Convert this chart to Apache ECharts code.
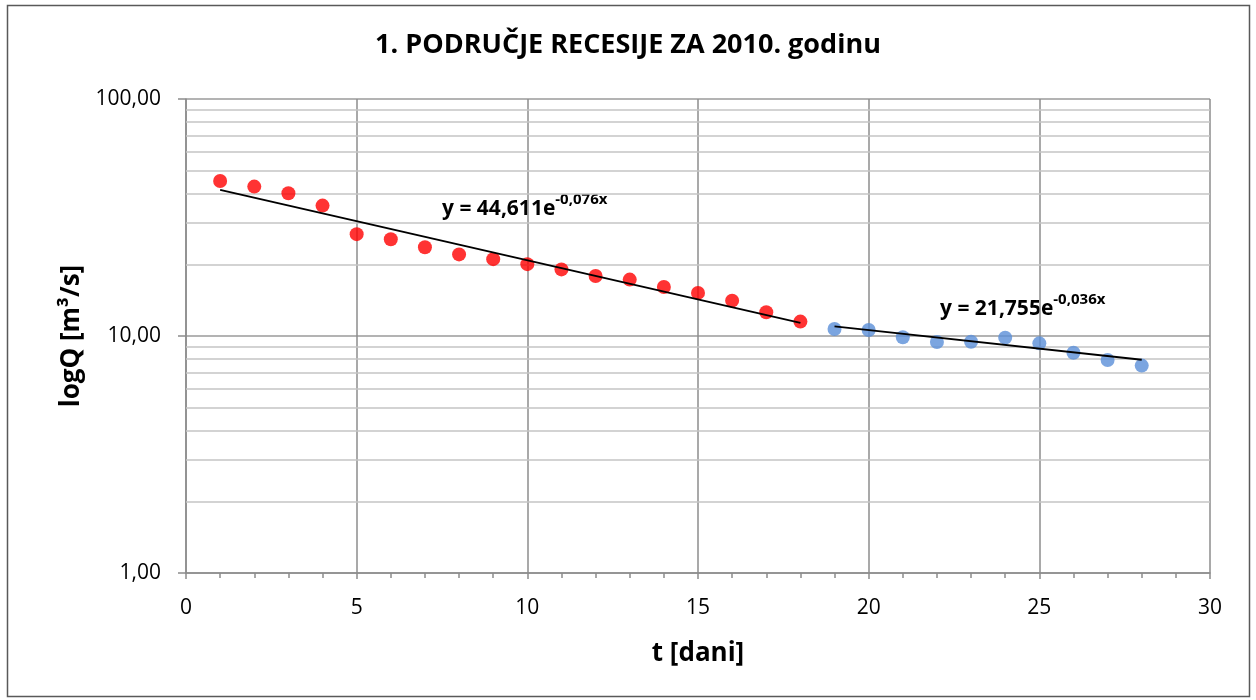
<!DOCTYPE html>
<html>
<head>
<meta charset="utf-8">
<title>Područje recesije 2010</title>
<script src="https://cdn.jsdelivr.net/npm/echarts@6/dist/echarts.min.js"></script>
<style>
  html, body { margin: 0; padding: 0; background: #fff; }
  #chart { width: 1256px; height: 700px; }
</style>
</head>
<body>
<div id="chart"></div>
<script>
// dani (x) i protoci Q (y)
const daniA = [1, 2, 3, 4, 5, 6, 7, 8, 9, 10, 11, 12, 13, 14, 15, 16, 17, 18];
const qA = [45.1, 42.7, 40.0, 35.5, 26.9, 25.6, 23.7, 22.1, 21.1, 20.1, 19.1, 17.9, 17.3, 16.1, 15.2, 14.1, 12.6, 11.5];
const daniB = [19, 20, 21, 22, 23, 24, 25, 26, 27, 28];
const qB = [10.7, 10.6, 9.88, 9.44, 9.46, 9.84, 9.31, 8.50, 7.92, 7.50];

// krajnje tocke trend linija
const trendXA = [1, 18];
const trendYA = [41.35, 11.36];
const trendXB = [19, 28];
const trendYB = [10.98, 7.94];

// pomocne linije mreze (log)
const minorY = [2, 3, 4, 5, 6, 7, 8, 9, 20, 30, 40, 50, 60, 70, 80, 90];

const FONT = '"Open Sans", "Noto Sans", sans-serif';

function pairs(xs, ys) {
  return xs.map(function (x, i) { return [x, ys[i]]; });
}

const eqRich = {
  a: { fontFamily: FONT, fontSize: 21, fontWeight: 'bold', color: '#000', lineHeight: 28, verticalAlign: 'bottom' },
  b: { fontFamily: FONT, fontSize: 15, fontWeight: 'bold', color: '#000', lineHeight: 28, verticalAlign: 'top' }
};

const chart = echarts.init(document.getElementById('chart'));

const option = {
  backgroundColor: '#fff',
  animation: false,
  title: {
    text: '1. PODRUČJE RECESIJE ZA 2010. godinu',
    left: 'center',
    top: 27,
    textStyle: { fontFamily: FONT, fontSize: 27, fontWeight: 'bold', color: '#000' }
  },
  grid: { left: 186, right: 46, top: 99, bottom: 127 },
  xAxis: {
    type: 'value',
    min: 0,
    max: 30,
    interval: 5,
    name: 't [dani]',
    nameLocation: 'middle',
    nameGap: 68,
    nameTextStyle: { fontFamily: FONT, fontSize: 26, fontWeight: 'bold', color: '#000' },
    axisLine: { show: true, lineStyle: { color: '#8c8c8c', width: 1.5 } },
    axisTick: { show: true, length: 6, lineStyle: { color: '#8c8c8c', width: 1.5 } },
    minorTick: { show: true, splitNumber: 5, length: 5, lineStyle: { color: '#8c8c8c', width: 1.5 } },
    axisLabel: { fontFamily: FONT, fontSize: 21, color: '#000', margin: 25 },
    splitLine: { show: true, lineStyle: { color: '#8c8c8c', width: 1.5 } }
  },
  yAxis: {
    type: 'log',
    logBase: 10,
    min: 1,
    max: 100,
    name: 'logQ [m³/s]',
    nameLocation: 'middle',
    nameGap: 85,
    nameTextStyle: { fontFamily: FONT, fontSize: 26, fontWeight: 'bold', color: '#000' },
    axisLine: { show: true, lineStyle: { color: '#8c8c8c', width: 1.5 } },
    axisTick: { show: true, length: 8, lineStyle: { color: '#8c8c8c', width: 1.5 } },
    axisLabel: {
      fontFamily: FONT, fontSize: 21, color: '#000', margin: 25,
      formatter: function (v) { return v.toFixed(2).replace('.', ','); }
    },
    splitLine: { show: true, lineStyle: { color: '#9a9a9a', width: 1.5 } }
  },
  series: [
    {
      type: 'line',
      data: pairs(trendXA, trendYA),
      symbol: 'none',
      lineStyle: { color: '#000', width: 2 },
      z: 3,
      markLine: {
        silent: true,
        symbol: 'none',
        label: { show: false },
        lineStyle: { color: '#c4c4c4', width: 1.5, type: 'solid' },
        z: 1,
        data: minorY.map(function (v) { return { yAxis: v }; })
      }
    },
    {
      type: 'line',
      data: pairs(trendXB, trendYB),
      symbol: 'none',
      lineStyle: { color: '#000', width: 2 },
      z: 3
    },
    {
      type: 'scatter',
      data: pairs(daniA, qA),
      symbol: 'circle',
      symbolSize: 14,
      itemStyle: { color: '#ff0000' },
      z: 2
    },
    {
      type: 'scatter',
      data: pairs(daniB, qB),
      symbol: 'circle',
      symbolSize: 14,
      itemStyle: { color: '#5a8fd8' },
      z: 2
    }
  ],
  graphic: [
    {
      type: 'rect',
      shape: { x: 7.5, y: 5.5, width: 1242, height: 691 },
      style: { fill: 'none', stroke: '#595959', lineWidth: 1.5 },
      silent: true
    },
    {
      type: 'text',
      left: 442,
      top: 192,
      style: { text: '{a|y = 44,611e}{b|-0,076x}', rich: eqRich }
    },
    {
      type: 'text',
      left: 940,
      top: 292,
      style: { text: '{a|y = 21,755e}{b|-0,036x}', rich: eqRich }
    }
  ]
};

chart.setOption(option);
</script>
</body>
</html>
